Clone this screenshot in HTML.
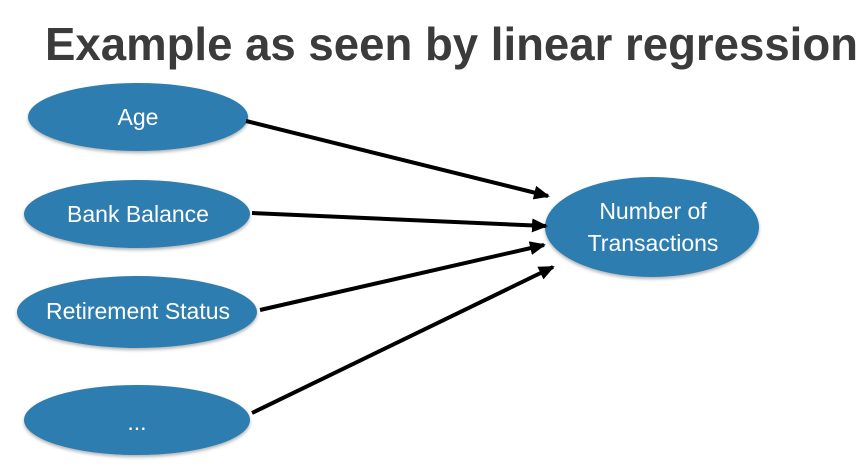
<!DOCTYPE html>
<html><head><meta charset="utf-8"><style>
html,body{margin:0;padding:0;background:#fff;}
svg{display:block;}
</style></head><body>
<svg width="865" height="466" viewBox="0 0 865 466" xmlns="http://www.w3.org/2000/svg">
<defs>
<marker id="ah" markerWidth="16" markerHeight="14" refX="14" refY="7" orient="auto" markerUnits="userSpaceOnUse" viewBox="0 0 16 14">
<path d="M0,0 L16,7 L0,14 z" fill="#000"/>
</marker>
<filter id="sh" x="-10%" y="-10%" width="120%" height="130%"><feDropShadow dx="0" dy="2" stdDeviation="1.5" flood-color="#000" flood-opacity="0.3"/></filter>
</defs>
<text x="45" y="60" font-family="Liberation Sans, sans-serif" font-weight="bold" font-size="46" fill="#3b3b3b" textLength="813" lengthAdjust="spacingAndGlyphs">Example as seen by linear regression</text>
<g fill="#2f7db0" filter="url(#sh)">
<ellipse cx="138" cy="117" rx="110" ry="34"/>
<ellipse cx="137" cy="214" rx="113" ry="34"/>
<ellipse cx="137" cy="312" rx="120" ry="36"/>
<ellipse cx="137" cy="420" rx="113" ry="35"/>
<ellipse cx="652" cy="227" rx="107" ry="50"/>
</g>
<g stroke="#000" stroke-width="4" marker-end="url(#ah)" fill="none">
<line x1="246" y1="121" x2="548" y2="196"/>
<line x1="252" y1="213" x2="546" y2="226"/>
<line x1="260" y1="310" x2="544" y2="245"/>
<line x1="252" y1="413" x2="553" y2="267"/>
</g>
<g fill="#fff" font-family="Liberation Sans, sans-serif" font-size="23" text-anchor="middle">
<text x="138" y="125">Age</text>
<text x="138" y="222">Bank Balance</text>
<text x="138" y="319">Retirement Status</text>
<text x="137" y="430">...</text>
<text x="653" y="219">Number of</text>
<text x="653" y="251">Transactions</text>
</g>
</svg>
</body></html>
